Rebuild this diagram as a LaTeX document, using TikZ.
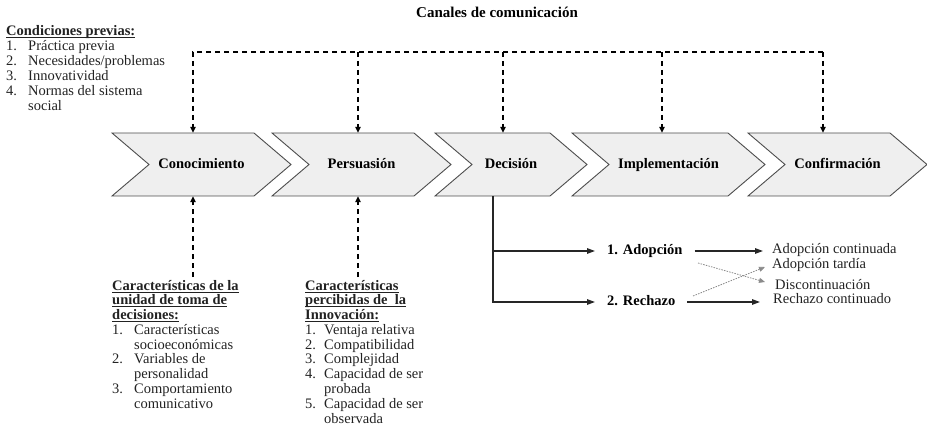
\documentclass[tikz,border=0pt]{standalone}
\usepackage{fontspec}
\setmainfont{Liberation Serif}
\usetikzlibrary{arrows.meta,calc}
\definecolor{chevfill}{HTML}{EFEFEF}
\definecolor{chevline}{HTML}{4D4D4D}
\definecolor{txtgray}{HTML}{222222}
\definecolor{dotgray}{HTML}{8A8A8A}
\newcommand{\nitem}[3]{\makebox[#1][l]{#2}#3}
\newcommand{\hdr}[1]{\setbox0\hbox{\textbf{#1}}\rlap{\rule[-2.4pt]{\wd0}{0.9pt}}\box0}
\newcommand{\chevronbox}[4]{%
  \path[chev] (#2,133) -- (#3-37,133) -- (#3,164.5) -- (#3-37,196) -- (#2,196) -- (#2+37,164.5) -- cycle;
  \node[chevlabel, minimum width={#3-#2}, minimum height=63] (#1) at ({(#2+#3)/2},164.5) {#4};}
\begin{document}
\begin{tikzpicture}[x=1pt,y=-1pt,
  txt/.style={inner sep=0pt, font=\fontsize{14.5}{15}\selectfont, text=txtgray},
  txtb/.style={inner sep=0pt, font=\fontsize{14.5}{14.8}\selectfont, text=txtgray},
  lbl/.style={inner ysep=0pt, text height=9.5pt, text depth=2.5pt, font=\fontsize{14.5}{15}\selectfont, text=txtgray},
  lblb/.style={inner ysep=0pt, text height=9.5pt, text depth=2.5pt, font=\fontsize{14.5}{15}\selectfont\bfseries, text=black},
  chev/.style={fill=chevfill, draw=chevline, line width=0.9pt, line join=miter},
  chevlabel/.style={inner sep=0pt, text height=9.5pt, text depth=2.5pt, font=\fontsize{14.5}{15}\selectfont\bfseries, text=black},
  dasharrow/.style={draw=black, line width=1.2pt, dash pattern=on 5pt off 4pt, -{Triangle[length=6pt,width=5.5pt]}},
  arr/.style={draw=black!85, line width=1.4pt, -{Triangle[length=8pt,width=5.5pt]}},
  dotarr/.style={draw=dotgray, line width=0.8pt, dash pattern=on 1.5pt off 1.2pt, -{Triangle[length=6pt,width=5pt]}},
]
\useasboundingbox (0,0) rectangle (927,433);

% title
\node[inner sep=0pt, font=\fontsize{15}{15}\selectfont\bfseries] (title) at (497,12) {Canales de comunicación};

% chevrons
\chevronbox{c1}{112}{291}{Conocimiento}
\chevronbox{c2}{272}{451}{Persuasión}
\chevronbox{c3}{435}{587}{Decisión}
\chevronbox{c4}{572}{765}{Implementación}
\chevronbox{c5}{748}{927}{Confirmación}

% top dashed channel
\coordinate (t1) at (193,52);
\coordinate (t2) at (358,52);
\coordinate (t3) at (503,52);
\coordinate (t4) at (662,52);
\coordinate (t5) at (823,52);
\draw[dasharrow] (t5) -- (t1) -- (t1 |- c1.north);
\draw[dasharrow] (t2) -- (t2 |- c2.north);
\draw[dasharrow] (t3) -- (t3 |- c3.north);
\draw[dasharrow] (t4) -- (t4 |- c4.north);
\draw[dasharrow] (t5) -- (t5 |- c5.north);

% previous conditions
\node[txt, anchor=base west] (cp) at (6,36) {\begin{tabular}[t]{@{}l@{}}
\hdr{Condiciones previas:}\\
\nitem{22pt}{1.}{Práctica previa}\\
\nitem{22pt}{2.}{Necesidades/problemas}\\
\nitem{22pt}{3.}{Innovatividad}\\
\nitem{22pt}{4.}{Normas del sistema}\\
\nitem{22pt}{}{social}
\end{tabular}};

% decision unit characteristics
\node[txtb, anchor=base west] (cu) at (112,290) {\begin{tabular}[t]{@{}l@{}}
\hdr{Características de la}\\
\hdr{unidad de toma de}\\
\hdr{decisiones:}\\
\nitem{22pt}{1.}{Características}\\
\nitem{22pt}{}{socioeconómicas}\\
\nitem{22pt}{2.}{Variables de}\\
\nitem{22pt}{}{personalidad}\\
\nitem{22pt}{3.}{Comportamiento}\\
\nitem{22pt}{}{comunicativo}
\end{tabular}};

% perceived characteristics
\node[txtb, anchor=base west] (ci) at (305,290) {\begin{tabular}[t]{@{}l@{}}
\hdr{Características}\\
\hdr{percibidas de\ \ la}\\
\hdr{Innovación:}\\
\nitem{19pt}{1.}{Ventaja relativa}\\
\nitem{19pt}{2.}{Compatibilidad}\\
\nitem{19pt}{3.}{Complejidad}\\
\nitem{19pt}{4.}{Capacidad de ser}\\
\nitem{19pt}{}{probada}\\
\nitem{19pt}{5.}{Capacidad de ser}\\
\nitem{19pt}{}{observada}
\end{tabular}};

\coordinate (b1) at (193,277);
\coordinate (b2) at (358,277);
\draw[dasharrow] (b1) -- (b1 |- c1.south);
\draw[dasharrow] (b2) -- (b2 |- c2.south);

% decision outcomes
\node[lblb, inner xsep=12pt, anchor=west] (adop) at (595,251) {1. Adopción};
\node[lblb, inner xsep=12pt, anchor=west] (rech) at (595,302) {2. Rechazo};
\coordinate (ba) at (493,251);
\coordinate (br) at (493,302);
\draw[arr] (c3.south -| br) -- (br) -- (rech.west);
\draw[arr] (ba) -- (adop.west);

\node[lbl, inner xsep=9pt, anchor=west] (ac) at (763,250) {Adopción continuada};
\node[lbl, inner xsep=7pt, anchor=west] (at) at (765,265) {Adopción tardía};
\node[lbl, inner xsep=10pt, anchor=west] (dc) at (765,286) {Discontinuación};
\node[lbl, inner xsep=13pt, anchor=west] (rc) at (760,299.5) {Rechazo continuado};

\draw[arr] (adop.east) -- (adop.east -| ac.west);
\draw[arr] (rech.east) -- (rech.east -| rc.west);

\coordinate (s1) at (698,263);
\coordinate (s2) at (693,296);
\draw[dotarr] (s1) -- ($(dc.west)+(0,-4)$);
\draw[dotarr] (s2) -- ($(at.west)+(0,2)$);
\end{tikzpicture}
\end{document}
